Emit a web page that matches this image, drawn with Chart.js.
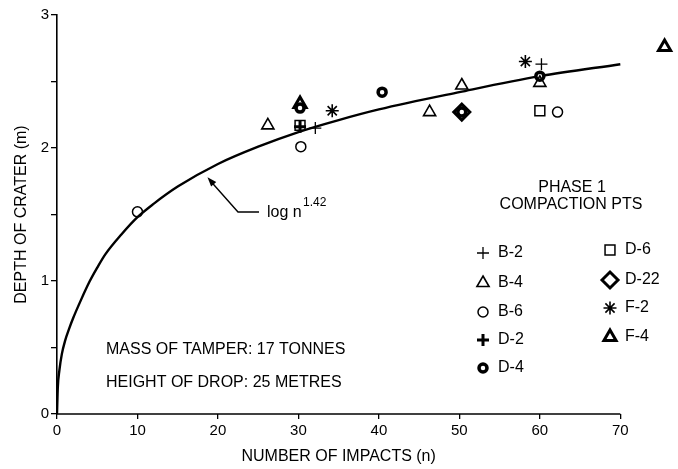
<!DOCTYPE html>
<html>
<head>
<meta charset="utf-8">
<script src="https://cdn.jsdelivr.net/npm/chart.js@4.4.0/dist/chart.umd.min.js"></script>
<style>
  html, body { margin: 0; padding: 0; background: #fff; }
  #wrap { width: 678px; height: 469px; }
</style>
</head>
<body>
<div id="wrap"><canvas id="crater"></canvas></div>
<script>
// axis ticks
const xTicks = [0, 10, 20, 30, 40, 50, 60, 70];
const yTicks = [0, 1, 2, 3];

// fitted curve "log n^1.42"
const curveN     = [0, 0.1, 0.3, 0.6, 1, 1.5, 2, 3, 4, 5, 6, 8, 10, 12, 15, 20, 25, 30, 35, 40, 50, 60, 70];
const curveDepth = [0, 0.2, 0.33, 0.45, 0.55, 0.64, 0.72, 0.86, 0.99, 1.1, 1.2, 1.35, 1.48, 1.58, 1.71, 1.88, 2.01, 2.12, 2.21, 2.29, 2.42, 2.54, 2.63];

// measured craters, one pair of arrays per compaction point
const b2N = [32.1, 60.2];             const b2D = [2.15, 2.63];
const b4N = [26.2, 46.3, 50.3, 60.0]; const b4D = [2.17, 2.27, 2.47, 2.49];
const b6N = [10.0, 30.3, 62.2];       const b6D = [1.52, 2.01, 2.27];
const d2N = [30.2];                   const d2D = [2.16];
const d4N = [30.2, 40.4, 50.3, 60.0]; const d4D = [2.30, 2.42, 2.27, 2.54];
const d6N = [30.2, 60.0];             const d6D = [2.17, 2.28];
const d22N = [50.3];                  const d22D = [2.27];
const f2N = [34.2, 58.2];             const f2D = [2.28, 2.65];
const f4N = [30.2, 75.5];             const f4D = [2.33, 2.76];

const FONT = 'Liberation Sans, Arial, sans-serif';

const pts = (xs, ys) => xs.map((x, i) => ({ x: x, y: ys[i] }));

function series(label, xs, ys, style, radius, width, fill) {
    return {
        type: 'scatter',
        label: label,
        data: pts(xs, ys),
        pointStyle: style,
        pointRadius: radius,
        pointBorderWidth: width,
        borderColor: '#000',
        backgroundColor: fill || 'rgba(0,0,0,0)',
        clip: false,
        order: 1
    };
}

const datasets = [
    {
        type: 'line',
        label: 'log n^1.42',
        data: pts(curveN, curveDepth),
        borderColor: '#000',
        borderWidth: 2.4,
        pointRadius: 0,
        cubicInterpolationMode: 'monotone',
        fill: false,
        order: 10
    },
    series('B-2', b2N, b2D, 'cross', 6, 1.3),
    series('B-4', b4N, b4D, 'triangle', 7, 1.6),
    series('B-6', b6N, b6D, 'circle', 5, 1.5),
    series('D-2', d2N, d2D, 'cross', 6, 3),
    series('D-4', d4N, d4D, 'circle', 4, 3.5, '#fff'),
    series('D-6', d6N, d6D, 'rect', 7, 1.5),
    series('D-22', d22N, d22D, 'rectRot', 8, 3),
    series('F-2', f2N, f2D, 'star', 6.5, 1.6),
    series('F-4', f4N, f4D, 'triangle', 7, 3)
];

// x axis line and title only run over 0..70
const xAxisLine = {
    id: 'xAxisLine',
    beforeDatasetsDraw(chart) {
        const ctx = chart.ctx;
        const xs = chart.scales.x;
        const y0 = chart.chartArea.bottom;
        const xEnd = xs.getPixelForValue(xTicks[xTicks.length - 1]);
        ctx.save();
        ctx.strokeStyle = '#000';
        ctx.lineWidth = 1.6;
        ctx.beginPath();
        ctx.moveTo(chart.chartArea.left, y0);
        ctx.lineTo(xEnd, y0);
        ctx.stroke();

        ctx.fillStyle = '#000';
        ctx.font = '16px ' + FONT;
        ctx.textAlign = 'center';
        ctx.textBaseline = 'middle';
        ctx.fillText('NUMBER OF IMPACTS (n)', (chart.chartArea.left + xEnd) / 2, 457);
        ctx.restore();
    }
};

// legend in two columns, annotations and the arrow
const notes = {
    id: 'notes',
    afterDatasetsDraw(chart) {
        const ctx = chart.ctx;
        const xs = chart.scales.x, ys = chart.scales.y;
        const px = v => xs.getPixelForValue(v);
        const py = v => ys.getPixelForValue(v);
        ctx.save();
        ctx.fillStyle = '#000';
        ctx.strokeStyle = '#000';
        ctx.textBaseline = 'middle';
        ctx.font = '16px ' + FONT;

        ctx.textAlign = 'left';
        ctx.fillText('MASS OF TAMPER: 17 TONNES', 106, 350);
        ctx.fillText('HEIGHT OF DROP: 25 METRES', 106, 383);

        ctx.textAlign = 'center';
        ctx.fillText('PHASE 1', 572, 188);
        ctx.fillText('COMPACTION PTS', 571, 205);

        // curve label with arrow
        ctx.textAlign = 'left';
        ctx.fillText('log n', 267, 213);
        ctx.font = '12px ' + FONT;
        ctx.fillText('1.42', 303, 203);

        const tipX = px(18.7), tipY = py(1.78);
        ctx.lineWidth = 1.4;
        ctx.beginPath();
        ctx.moveTo(259, 212);
        ctx.lineTo(238, 212);
        ctx.lineTo(tipX + 5, tipY + 6);
        ctx.stroke();
        const ang = Math.atan2(tipY - 212, tipX - 238);
        ctx.beginPath();
        ctx.moveTo(tipX, tipY);
        ctx.lineTo(tipX - 10 * Math.cos(ang - 0.35), tipY - 10 * Math.sin(ang - 0.35));
        ctx.lineTo(tipX - 10 * Math.cos(ang + 0.35), tipY - 10 * Math.sin(ang + 0.35));
        ctx.closePath();
        ctx.fill();

        // legend
        ctx.font = '16px ' + FONT;
        const spots = [
            [483, 253], [483, 283], [483, 312], [483, 340], [483, 368],
            [610, 250], [610, 280], [610, 308], [610, 337]
        ];
        chart.data.datasets.slice(1).forEach((ds, i) => {
            const [sx, sy] = spots[i];
            ctx.save();
            ctx.lineWidth = ds.pointBorderWidth;
            ctx.strokeStyle = '#000';
            ctx.fillStyle = ds.backgroundColor;
            Chart.helpers.drawPoint(ctx, {
                pointStyle: ds.pointStyle,
                radius: ds.pointRadius,
                rotation: 0,
                borderWidth: ds.pointBorderWidth
            }, sx, sy);
            ctx.restore();
            ctx.textAlign = 'left';
            ctx.fillText(ds.label, sx + 15, sy);
        });
        ctx.restore();
    }
};

new Chart(document.getElementById('crater'), {
    data: { datasets: datasets },
    options: {
        responsive: true,
        maintainAspectRatio: false,
        animation: false,
        layout: { padding: { top: 15, right: 2, left: 0, bottom: 0 } },
        plugins: {
            legend: { display: false },
            tooltip: { enabled: false }
        },
        scales: {
            x: {
                type: 'linear',
                min: 0,
                max: 75.8,
                afterFit: s => { s.height = 55; },
                afterBuildTicks: s => { s.ticks = xTicks.map(v => ({ value: v })); },
                ticks: {
                    color: '#000',
                    font: { family: FONT, size: 15 },
                    padding: 3,
                    maxRotation: 0
                },
                grid: {
                    drawOnChartArea: false,
                    drawTicks: true,
                    tickLength: 5,
                    color: '#000',
                    lineWidth: 1.3
                },
                border: { display: false },
                title: { display: false }
            },
            y: {
                type: 'linear',
                min: 0,
                max: 3,
                afterFit: s => { s.width = 57; },
                ticks: {
                    stepSize: 0.5,
                    color: '#000',
                    font: { family: FONT, size: 15 },
                    padding: 2,
                    callback: v => (yTicks.includes(v) ? String(v) : '')
                },
                grid: {
                    drawOnChartArea: false,
                    drawTicks: true,
                    tickLength: 6,
                    color: '#000',
                    lineWidth: 1.3
                },
                border: { display: true, color: '#000', width: 1.6 },
                title: {
                    display: true,
                    text: 'DEPTH OF CRATER (m)',
                    color: '#000',
                    font: { family: FONT, size: 16 },
                    padding: { top: 12, bottom: 0 }
                }
            }
        }
    },
    plugins: [xAxisLine, notes]
});
</script>
</body>
</html>
